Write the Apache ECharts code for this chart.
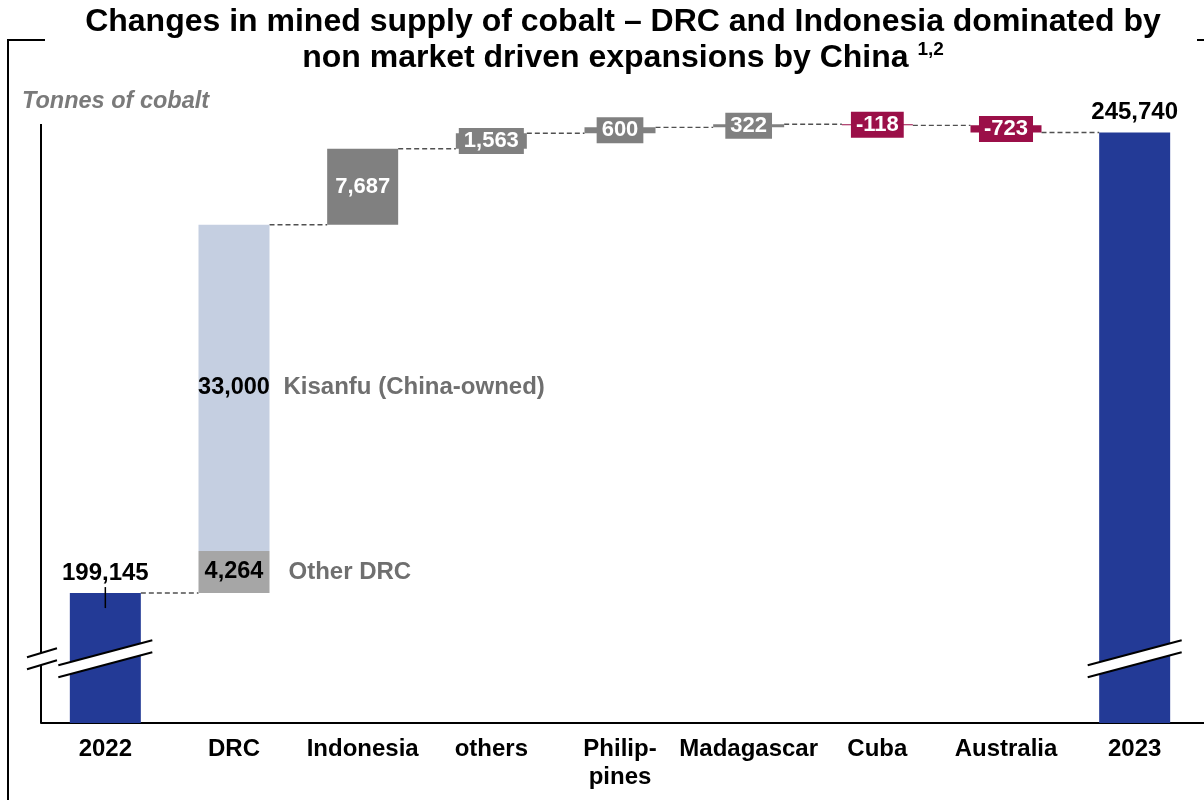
<!DOCTYPE html>
<html>
<head>
<meta charset="utf-8">
<script src="https://cdn.jsdelivr.net/npm/echarts@6/dist/echarts.min.js"></script>
<style>
html,body{margin:0;padding:0;background:#fff;}
#chart{width:1204px;height:800px;}
</style>
</head>
<body>
<div id="chart"></div>
<script>
// ---- data ----
var categories = ['2022', 'DRC', 'Indonesia', 'others', 'Philip-\npines', 'Madagascar', 'Cuba', 'Australia', '2023'];
var startTotal = 199145;
var endTotal = 245740;
var drcOther = 4264;
var drcKisanfu = 33000;
var changes = [null, 37264, 7687, 1563, 600, 322, -118, -723, null]; // per category
var drcOtherLabel = 'Other DRC';
var drcKisanfuLabel = 'Kisanfu (China-owned)';

// ---- styles ----
var FONT = '"Liberation Sans", Arial, Helvetica, sans-serif';
var BLUE = '#233A96', LIGHT = '#C5CFE1', MIDGRAY = '#A6A6A6', GRAY = '#808080', RED = '#9B0F48';
var BAR_W = 71;
var AXIS_MIN = 186000, AXIS_MAX = 246600;
var BREAK_VALUE = 192500;

function fmt(v) { return v.toLocaleString('en-US'); }

// running totals
var n = categories.length;
var helper = [], totals = [], otherS = [], kisS = [], posS = [], negS = [], levels = [];
var running = startTotal;
for (var i = 0; i < n; i++) {
  if (i === 0) {
    helper.push(0); totals.push(startTotal); otherS.push('-'); kisS.push('-'); posS.push('-'); negS.push('-');
    levels.push(running);
  } else if (i === n - 1) {
    helper.push(0); totals.push(endTotal); otherS.push('-'); kisS.push('-'); posS.push('-'); negS.push('-');
  } else if (categories[i] === 'DRC') {
    helper.push(running); totals.push('-'); otherS.push(drcOther); kisS.push(drcKisanfu); posS.push('-'); negS.push('-');
    running += changes[i]; levels.push(running);
  } else {
    var c = changes[i];
    totals.push('-'); otherS.push('-'); kisS.push('-');
    if (c >= 0) { helper.push(running); posS.push(c); negS.push('-'); }
    else { helper.push(running + c); posS.push('-'); negS.push(-c); }
    running += c; levels.push(running);
  }
}
var connData = [];
for (var j = 0; j < n - 1; j++) connData.push([j, levels[j]]);

var chart = echarts.init(document.getElementById('chart'));
var boxLabel = function (bg) {
  return {
    show: true, position: 'inside', color: '#fff', fontFamily: FONT, fontWeight: 'bold', fontSize: 22,
    backgroundColor: bg, padding: [1, 5], lineHeight: 24,
    formatter: function (p) { return fmt(changes[p.dataIndex]); }
  };
};

var option = {
  animation: false,
  grid: { left: 41, right: 5, top: 124, bottom: 77 },
  xAxis: {
    type: 'category', data: categories,
    axisLine: { show: true, lineStyle: { color: '#000', width: 2 } },
    axisTick: { show: false },
    axisLabel: { color: '#000', fontFamily: FONT, fontWeight: 'bold', fontSize: 24, margin: 12, lineHeight: 28, interval: 0 }
  },
  yAxis: {
    type: 'value', min: AXIS_MIN, max: AXIS_MAX,
    axisLine: { show: false }, axisTick: { show: false }, axisLabel: { show: false }, splitLine: { show: false }
  },
  series: [
    {
      type: 'custom', z: 1, data: connData,
      renderItem: function (params, api) {
        var p = api.coord([api.value(0), api.value(1)]);
        var w = api.size([1, 0])[0];
        return {
          type: 'line',
          shape: { x1: p[0] + BAR_W / 2, y1: p[1], x2: p[0] + w - BAR_W / 2, y2: p[1] },
          style: { stroke: '#505050', lineWidth: 1.4, lineDash: [5, 3] }
        };
      }
    },
    { type: 'bar', stack: 'w', barWidth: BAR_W, data: helper, itemStyle: { color: 'transparent' }, silent: true, z: 2 },
    {
      type: 'bar', stack: 'w', barWidth: BAR_W, data: totals, itemStyle: { color: BLUE }, z: 2,
      label: { show: true, position: 'top', distance: 8, color: '#000', fontFamily: FONT, fontWeight: 'bold', fontSize: 24,
        formatter: function (p) { return fmt(p.value); } }
    },
    {
      type: 'bar', stack: 'w', barWidth: BAR_W, data: otherS, itemStyle: { color: MIDGRAY }, z: 2,
      label: { show: true, position: [0, '50%'], align: 'left', verticalAlign: 'middle',
        formatter: function (p) { return '{v|' + fmt(p.value) + '}{n|' + drcOtherLabel + '}'; },
        rich: {
          v: { width: BAR_W, align: 'center', color: '#000', fontFamily: FONT, fontWeight: 'bold', fontSize: 23.5 },
          n: { padding: [0, 0, 0, 19], color: '#6f6f6f', fontFamily: FONT, fontWeight: 'bold', fontSize: 24 }
        } }
    },
    {
      type: 'bar', stack: 'w', barWidth: BAR_W, data: kisS, itemStyle: { color: LIGHT }, z: 2,
      label: { show: true, position: [0, '50%'], align: 'left', verticalAlign: 'middle',
        formatter: function (p) { return '{v|' + fmt(p.value) + '}{n|' + drcKisanfuLabel + '}'; },
        rich: {
          v: { width: BAR_W, align: 'center', color: '#000', fontFamily: FONT, fontWeight: 'bold', fontSize: 23.5 },
          n: { padding: [0, 0, 0, 14], color: '#6f6f6f', fontFamily: FONT, fontWeight: 'bold', fontSize: 24 }
        } }
    },
    { type: 'bar', stack: 'w', barWidth: BAR_W, data: posS, itemStyle: { color: GRAY }, z: 2, label: boxLabel(GRAY) },
    { type: 'bar', stack: 'w', barWidth: BAR_W, data: negS, itemStyle: { color: RED }, z: 2, label: boxLabel(RED) }
  ]
};
chart.setOption(option);

// decorations, positioned through the chart's own scales
var gridLeft = 41;
var yTop = chart.convertToPixel({ yAxisIndex: 0 }, AXIS_MAX);
var yBottom = chart.convertToPixel({ yAxisIndex: 0 }, AXIS_MIN);
var yBreak = chart.convertToPixel({ yAxisIndex: 0 }, BREAK_VALUE);
var x2022 = chart.convertToPixel({ xAxisIndex: 0 }, 0);
var x2023 = chart.convertToPixel({ xAxisIndex: 0 }, n - 1);
var yStart = chart.convertToPixel({ yAxisIndex: 0 }, startTotal);

function barBreak(cx, cy) {
  var h = 47;
  return [
    { type: 'polygon', shape: { points: [[cx - h, cy + 6.5], [cx + h, cy - 18.5], [cx + h, cy - 6.5], [cx - h, cy + 18.5]] }, style: { fill: '#fff' }, z: 100 },
    { type: 'line', shape: { x1: cx - h, y1: cy + 6.5, x2: cx + h, y2: cy - 18.5 }, style: { stroke: '#000', lineWidth: 2 }, z: 101 },
    { type: 'line', shape: { x1: cx - h, y1: cy + 18.5, x2: cx + h, y2: cy - 6.5 }, style: { stroke: '#000', lineWidth: 2 }, z: 101 }
  ];
}
var ax = gridLeft;
var graphics = [
  { type: 'line', shape: { x1: ax, y1: yTop, x2: ax, y2: yBottom }, style: { stroke: '#000', lineWidth: 2 }, z: 50 },
  { type: 'line', shape: { x1: 1199, y1: yBottom, x2: 1204, y2: yBottom }, style: { stroke: '#000', lineWidth: 2 }, z: 50 },
  { type: 'polygon', shape: { points: [[ax - 14, yBreak - 1.5], [ax + 16, yBreak - 10.5], [ax + 16, yBreak + 1.5], [ax - 14, yBreak + 10.5]] }, style: { fill: '#fff' }, z: 100 },
  { type: 'line', shape: { x1: ax - 14, y1: yBreak - 1.5, x2: ax + 16, y2: yBreak - 10.5 }, style: { stroke: '#000', lineWidth: 2 }, z: 101 },
  { type: 'line', shape: { x1: ax - 14, y1: yBreak + 10.5, x2: ax + 16, y2: yBreak + 1.5 }, style: { stroke: '#000', lineWidth: 2 }, z: 101 },
  { type: 'line', shape: { x1: x2022, y1: yStart - 6, x2: x2022, y2: yStart + 15 }, style: { stroke: '#000', lineWidth: 1.5 }, z: 60 },
  { type: 'polyline', shape: { points: [[45, 40], [8, 40], [8, 800]] }, style: { stroke: '#000', lineWidth: 2, fill: null }, z: 10 },
  { type: 'line', shape: { x1: 1197, y1: 40, x2: 1204, y2: 40 }, style: { stroke: '#000', lineWidth: 2 }, z: 10 },
  { type: 'text', x: 623, y: 4, z: 200,
    style: { text: 'Changes in mined supply of cobalt – DRC and Indonesia dominated by\nnon market driven expansions by China {sup|1,2}',
      fontFamily: FONT, fontWeight: 'bold', fontSize: 32, fill: '#000', align: 'center', verticalAlign: 'top', lineHeight: 36,
      rich: { sup: { fontFamily: FONT, fontWeight: 'bold', fontSize: 19, fill: '#000', verticalAlign: 'top', padding: [0, 0, 12, 0] } } } },
  { type: 'text', x: 22, y: 102, z: 200,
    style: { text: 'Tonnes of cobalt', fontFamily: FONT, fontWeight: 'bold', fontStyle: 'italic', fontSize: 23.5, fill: '#7a7a7a', verticalAlign: 'middle', align: 'left' } }
];
graphics = graphics.concat(barBreak(x2022, yBreak), barBreak(x2023, yBreak));
chart.setOption({ graphic: graphics });
</script>
</body>
</html>
